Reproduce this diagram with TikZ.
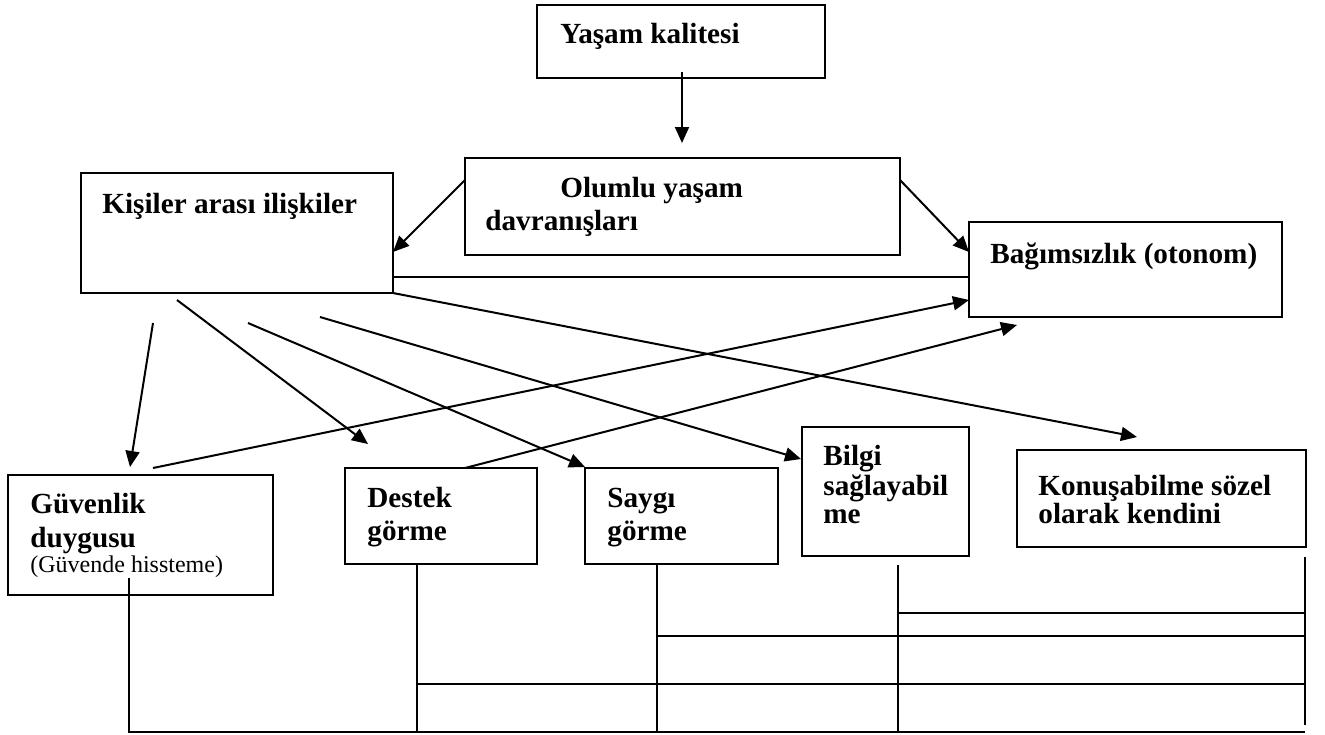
\documentclass[tikz,border=0pt]{standalone}
\usepackage{fontspec}
\setmainfont{Liberation Serif}
\usetikzlibrary{fit,arrows.meta}
\begin{document}
\begin{tikzpicture}[x=0.5pt,y=-0.5pt,
  box/.style={draw, line width=1.1pt, inner sep=0pt},
  lbl/.style={anchor=base west, inner sep=0pt, font=\fontsize{14.6pt}{17pt}\selectfont\bfseries},
  sml/.style={anchor=base west, inner sep=0pt, font=\fontsize{12pt}{14pt}\selectfont},
  ln/.style={line width=1pt},
  arr/.style={line width=1pt, -{Triangle[length=8pt,width=7pt]}}]
\useasboundingbox (0,0) rectangle (1325,734);
% boxes
\node[box, fit={(537,5)(825,78)}] (yk) {};
\node[box, fit={(465,158)(900,255)}] (ol) {};
\node[box, fit={(81,173)(393,293)}] (kis) {};
\node[box, fit={(969,222)(1282,317)}] (bag) {};
\node[box, fit={(8,475)(273,595)}] (guv) {};
\node[box, fit={(345,468)(537,564)}] (des) {};
\node[box, fit={(585,468)(778,564)}] (say) {};
\node[box, fit={(802,427)(969,556)}] (bil) {};
\node[box, fit={(1017,450)(1306,547)}] (kon) {};
% texts
\node[lbl] (tyk) at (560,43) {Yaşam kalitesi};
\node[lbl] (tol1) at (560,197) {Olumlu yaşam};
\node[lbl] (tol2) at (485,230) {davranışları};
\node[lbl] (tkis) at (102,213) {Kişiler arası ilişkiler};
\node[lbl] (tbag) at (990,263) {Bağımsızlık (otonom)};
\node[lbl] (tguv1) at (30,513) {Güvenlik};
\node[lbl] (tguv2) at (30,547) {duygusu};
\node[sml] (tguv3) at (30,572) {(Güvende hissteme)};
\node[lbl] (tdes1) at (367,507) {Destek};
\node[lbl] (tdes2) at (367,540) {görme};
\node[lbl] (tsay1) at (607,507) {Saygı};
\node[lbl] (tsay2) at (607,540) {görme};
\node[lbl] (tbil1) at (823,465) {Bilgi};
\node[lbl] (tbil2) at (823,495) {sağlayabil};
\node[lbl] (tbil3) at (823,523) {me};
\node[lbl] (tkon1) at (1038,495) {Konuşabilme sözel};
\node[lbl] (tkon2) at (1038,523) {olarak kendini};
% connector end points
\coordinate (a1s) at (682,72);   \coordinate (a1e) at (682,143);
\coordinate (a2s) at (465,180);  \coordinate (a2e) at (393,252);
\coordinate (a3s) at (900,180);  \coordinate (a3e) at (969,252);
\coordinate (h1s) at (393,277);  \coordinate (h1e) at (969,277);
\coordinate (k1s) at (153,323);  \coordinate (k1e) at (130,467);
\coordinate (k2s) at (177,300);  \coordinate (k2e) at (368,444);
\coordinate (k3s) at (248,323);  \coordinate (k3e) at (585,467);
\coordinate (k4s) at (320,317);  \coordinate (k4e) at (801,459);
\coordinate (k5s) at (393,293);  \coordinate (k5e) at (1137,437);
\coordinate (b1s) at (153,468);  \coordinate (b1e) at (969,300);
\coordinate (b2s) at (465,468);  \coordinate (b2e) at (1017,325);
% arrows
\draw[arr] (a1s) -- (a1e);
\draw[arr] (a2s) -- (a2e);
\draw[arr] (a3s) -- (a3e);
\draw[ln] (h1s) -- (h1e);
\draw[arr] (k1s) -- (k1e);
\draw[arr] (k2s) -- (k2e);
\draw[arr] (k3s) -- (k3e);
\draw[arr] (k4s) -- (k4e);
\draw[arr] (k5s) -- (k5e);
\draw[arr] (b1s) -- (b1e);
\draw[arr] (b2s) -- (b2e);
% lower tree lines
\coordinate (g1) at (129,578); \coordinate (g2) at (129,732);
\coordinate (d1) at (417,564); \coordinate (d2) at (417,732);
\coordinate (s1) at (657,564); \coordinate (s2) at (657,732);
\coordinate (l1) at (898,565); \coordinate (l2) at (898,732);
\coordinate (r1) at (1305,557); \coordinate (r2) at (1305,725);
\coordinate (e1) at (1305,732);
\draw[ln] (g1) -- (g2) -- (e1);
\draw[ln] (d1) -- (d2);
\draw[ln] (s1) -- (s2);
\draw[ln] (l1) -- (l2);
\draw[ln] (r1) -- (r2);
\draw[ln] (898,613) -- (1305,613);
\draw[ln] (657,636) -- (1305,636);
\draw[ln] (417,684) -- (1305,684);
\end{tikzpicture}
\end{document}
